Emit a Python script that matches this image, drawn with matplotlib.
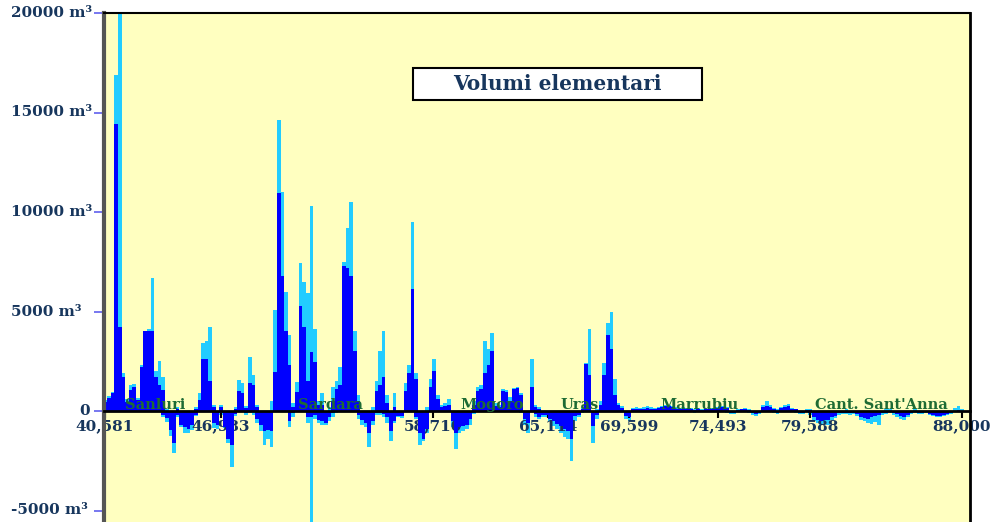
import numpy as np
import matplotlib
matplotlib.use("Agg")
import matplotlib.pyplot as plt
from matplotlib.patches import Rectangle

# sezioni ogni 200 m
progressive = np.arange(40600, 88001, 200)

# volumi di scavo (positivi) e riporto (negativi), m3
scavo_ciano = [
    550, 750, 950, 16900, 21000, 1900, 600, 1300, 1350, 650,
    2300, 4000, 4100, 6700, 2000, 2500, 1700, 100, 0, 0,
    200, 0, 0, 0, 0, 200, 880, 3400, 3500, 4200,
    300, 0, 300, 0, 0, 0, 200, 1550, 1400, 250,
    2700, 1800, 300, 0, 0, 0, 500, 5100, 14600, 11000,
    6000, 3800, 400, 1450, 7450, 6500, 5950, 10300, 4100, 500,
    900, 0, 200, 1200, 1500, 2200, 7500, 9200, 10500, 4000,
    800, 0, 0, 0, 200, 1500, 3000, 4000, 800, 0,
    900, 0, 0, 1400, 2300, 9500, 1900, 0, 0, 200,
    1600, 2600, 800, 300, 400, 600, 0, 0, 0, 0,
    0, 0, 500, 1200, 1300, 3500, 3100, 3900, 400, 300,
    1100, 1050, 700, 1150, 1200, 900, 0, 0, 2600, 300,
    200, 0, 0, 0, 0, 0, 0, 0, 0, 0,
    0, 0, 200, 2400, 4100, 0, 100, 500, 2400, 4400,
    5000, 1600, 400, 250, 0, 0, 150, 200, 150, 200,
    250, 200, 150, 200, 250, 300, 300, 250, 200, 150,
    200, 150, 150, 100, 150, 100, 150, 100, 150, 200,
    250, 250, 200, 0, 0, 100, 120, 150, 100, 0,
    0, 0, 300, 500, 300, 150, 100, 200, 300, 350,
    150, 100, 0, 0, 100, 100, 0, 0, 0, 0,
    0, 0, 0, 0, 0, 100, 0, 0, 0, 0,
    0, 0, 0, 0, 0, 0, 100, 100, 0, 0,
    0, 0, 0, 0, 100, 0, 0, 0, 0, 0,
    0, 0, 0, 0, 0, 150, 250, 100]

scavo_blu = [
    470, 630, 880, 14400, 4200, 1700, 470, 1050, 1200, 550,
    2200, 4000, 4000, 4000, 1700, 1300, 1050, 0, 0, 0,
    100, 0, 0, 0, 0, 100, 550, 2600, 2600, 1500,
    200, 0, 200, 0, 0, 0, 100, 1000, 900, 150,
    1400, 1300, 200, 0, 0, 0, 0, 1950, 10950, 6800,
    4000, 2300, 200, 950, 5300, 4200, 1500, 2950, 2450, 300,
    300, 0, 0, 500, 1100, 1300, 7300, 7200, 6800, 3000,
    500, 0, 0, 0, 0, 1000, 1300, 1700, 400, 0,
    200, 0, 0, 980, 1900, 6150, 1600, 0, 0, 0,
    1200, 2000, 600, 200, 250, 300, 0, 0, 0, 0,
    0, 0, 300, 1000, 1100, 1900, 2300, 3000, 250, 200,
    1000, 950, 500, 1100, 1150, 800, 0, 0, 1200, 200,
    100, 0, 0, 0, 0, 0, 0, 0, 0, 0,
    0, 0, 100, 2350, 1800, 0, 0, 300, 1800, 3800,
    3100, 800, 300, 150, 0, 0, 100, 100, 100, 100,
    150, 100, 100, 150, 200, 250, 250, 200, 100, 100,
    100, 100, 80, 50, 100, 50, 80, 80, 100, 150,
    200, 200, 150, 0, 0, 50, 80, 100, 50, 0,
    0, 0, 200, 250, 200, 100, 0, 150, 200, 250,
    100, 80, 0, 0, 50, 50, 0, 0, 0, 0,
    0, 0, 0, 0, 0, 0, 0, 0, 0, 0,
    0, 0, 0, 0, 0, 0, 0, 0, 0, 0,
    0, 0, 0, 0, 0, 0, 0, 0, 0, 0,
    0, 0, 0, 0, 0, 0, 50, 0]

riporto_ciano = [
    0, 0, 0, 0, 0, 0, 0, 0, 0, 0,
    0, 0, 0, 0, 0, 0, -300, -530, -1280, -2100,
    -300, -800, -1100, -1100, -950, -250, 0, 0, 0, 0,
    -850, -900, -200, -850, -1600, -2800, -250, 0, 0, -200,
    -100, -200, -600, -1000, -1700, -1400, -1800, 0, 0, 0,
    0, -800, -300, 0, 0, 0, -600, -5600, -400, -600,
    -700, -700, -500, -300, -100, 0, 0, 0, 0, 0,
    -400, -700, -800, -1800, -700, -200, -200, -300, -600, -1500,
    -600, -300, -350, 0, 0, 0, -400, -1700, -1500, -1100,
    0, 0, 0, 0, 0, 0, -800, -1900, -1100, -1000,
    -900, -700, -150, 0, 0, 0, 0, 0, 0, 0,
    0, 0, 0, 0, 0, -100, -700, -1100, 0, -300,
    -400, -300, -300, -500, -750, -900, -1100, -1300, -1400, -2500,
    -500, -300, -100, 0, 0, -1600, -400, 0, 0, 0,
    0, 0, 0, 0, -400, -500, 0, 0, 0, 0,
    0, 0, 0, 0, 0, 0, 0, 0, 0, 0,
    0, 0, 0, -100, 0, 0, 0, 0, 0, 0,
    0, 0, -100, -150, -170, 0, 0, 0, -100, -200,
    -250, -150, 0, 0, 0, -100, -150, 0, 0, 0,
    0, -100, -150, -150, 0, -200, -500, -600, -700, -600,
    -700, -450, -350, -200, -150, -150, -200, -150, -250, -450,
    -500, -600, -650, -550, -700, -200, -150, -100, -200, -300,
    -400, -450, -300, -150, -100, -150, -150, -100, -200, -250,
    -300, -300, -250, -200, -150, 0, 0, 0]

riporto_blu = [
    0, 0, 0, 0, 0, 0, 0, 0, 0, 0,
    0, 0, 0, 0, 0, 0, -200, -370, -950, -1600,
    -200, -700, -780, -900, -700, -200, 0, 0, 0, 0,
    -600, -700, -100, -800, -1400, -1700, -150, 0, 0, -100,
    0, 0, -400, -700, -1000, -950, -1000, 0, 0, 0,
    0, -500, -100, 0, 0, 0, -300, -300, -200, -450,
    -500, -600, -300, -100, 0, 0, 0, 0, 0, 0,
    -200, -450, -600, -1100, -500, -100, -100, -150, -300, -1000,
    -500, -250, -250, 0, 0, 0, -300, -1100, -1400, -900,
    0, 0, 0, 0, 0, 0, -500, -1100, -800, -750,
    -700, -400, -100, 0, 0, 0, 0, 0, 0, 0,
    0, 0, 0, 0, 0, -50, -400, -600, 0, -150,
    -300, -200, -200, -400, -500, -650, -750, -900, -1000, -1400,
    -250, -200, -50, 0, 0, -750, -200, 0, 0, 0,
    0, 0, 0, 0, -250, -300, 0, 0, 0, 0,
    0, 0, 0, 0, 0, 0, 0, 0, 0, 0,
    0, 0, 0, 0, 0, 0, 0, 0, 0, 0,
    0, 0, 0, -100, -100, 0, 0, 0, 0, -100,
    -150, -100, 0, 0, 0, 0, -80, 0, 0, 0,
    0, 0, -100, -100, 0, -100, -300, -450, -500, -450,
    -450, -300, -250, -120, -100, -80, -100, -100, -150, -300,
    -350, -400, -300, -250, -200, -100, -80, -50, -100, -150,
    -250, -300, -200, -100, -50, -100, -80, -50, -150, -200,
    -250, -250, -200, -150, -100, 0, 0, 0]

tick_progressive = [40581, 46983, 58710, 65114, 69599, 74493, 79588, 88000]
paesi = ["Sanluri", "Sardara", "Mogoro", "Uras", "Marrubiu", "Cant. Sant'Anna"]
pos_paesi = [43350, 53030, 61990, 66860, 73500, 83520]
y_ticks = [-5000, 0, 5000, 10000, 15000, 20000]

navy = '#17365D'
ciano = '#22CCFF'
blu = '#0000FF'
serif = 'DejaVu Serif'

fig = plt.figure(figsize=(9.92, 5.22), dpi=100)
ax = fig.add_axes([104/992, (522-530.4)/522, 866/992, (530.4-13)/522])
ax.set_facecolor('#FFFFC0')

w = 200
ax.bar(progressive, scavo_ciano, width=w, color=ciano, linewidth=0, zorder=1)
ax.bar(progressive, riporto_ciano, width=w, color=ciano, linewidth=0, zorder=1)
ax.bar(progressive, scavo_blu, width=w, color=blu, linewidth=0, zorder=2)
ax.bar(progressive, riporto_blu, width=w, color=blu, linewidth=0, zorder=2)

ax.set_xlim(40526, 88443)
ax.set_ylim(-6000, 20000)

# asse x sullo zero
ax.spines['bottom'].set_position(('data', 0))
ax.spines['bottom'].set_linewidth(2)
ax.spines['bottom'].set_color('black')
ax.spines['bottom'].set_zorder(5)
ax.spines['left'].set_color('#555555')
ax.spines['left'].set_linewidth(3)
ax.spines['top'].set_linewidth(1.5)
ax.spines['right'].set_linewidth(2)

ax.set_xticks(tick_progressive)
ax.set_xticklabels([f"{v:,}" for v in tick_progressive])
ax.tick_params(axis='x', direction='out', length=5, width=1.5, pad=1,
               colors='black', labelcolor=navy)
for lab in ax.get_xticklabels():
    lab.set_fontfamily(serif)
    lab.set_fontweight('bold')
    lab.set_fontsize(11)

ax.set_yticks(y_ticks)
ax.set_yticklabels([])
ax.tick_params(axis='y', direction='out', length=7, width=1.2, color='#6060EE')

# etichette asse y
ytr = ax.get_yaxis_transform()
for v in y_ticks:
    if v == 0:
        ax.text(-0.016, v, "0", transform=ytr, ha='right', va='center',
                color=navy, family=serif, weight='bold', size=11)
    else:
        ax.text(-0.1074, v, f"{v} m³", transform=ytr, ha='left', va='center',
                color=navy, family=serif, weight='bold', size=11, clip_on=False)

for nome, p in zip(paesi, pos_paesi):
    ax.annotate(nome, xy=(p, 0), xytext=(0, 1.5), textcoords='offset points',
                ha='center', va='baseline', color='#1E6B34', family=serif,
                weight='bold', size=10.5, zorder=6)

# riquadro titolo
fig.patches.append(Rectangle((413/992, (522-100)/522), 289/992, 32/522,
                             transform=fig.transFigure, facecolor='white',
                             edgecolor='black', linewidth=1.5, zorder=10))
fig.text(557.5/992, 1 - 84/522, "Volumi elementari", ha='center', va='center',
         color=navy, family=serif, weight='bold', size=14.5, zorder=11)

fig.savefig("out.png", dpi=100)
